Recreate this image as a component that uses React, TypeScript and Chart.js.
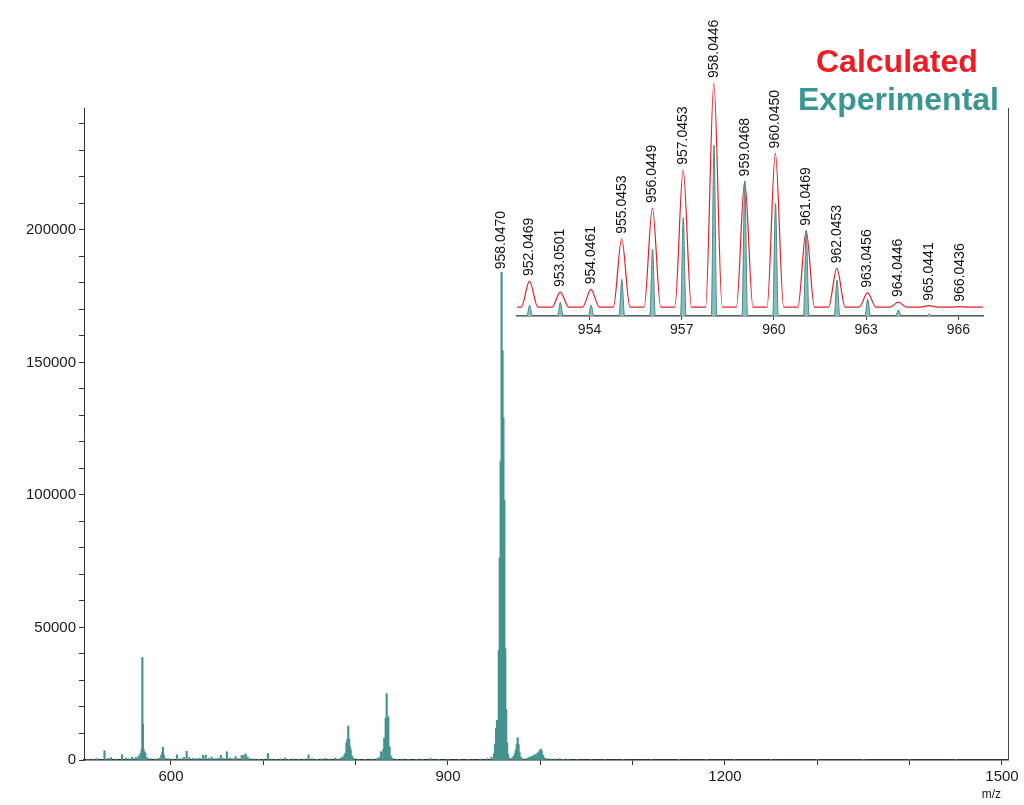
import React, { useEffect, useRef } from 'react';
import { Chart, registerables } from 'chart.js';

Chart.register(...registerables);

const FONT = "'Liberation Sans', Arial, Helvetica, sans-serif";

// ---------- Main spectrum (experimental) ----------
const mainMz = [
  510, 515, 520, 528, 532, 535, 540, 547, 551, 555, 558, 562, 565, 567, 568.3, 569.0, 569.6, 570.3, 571.2, 572.2,
  574, 578, 583, 587, 589.5, 590.5, 591.3, 592.2, 594, 598, 602, 606.5, 610, 614, 617, 620, 624, 627, 631, 634.7,
  637.6, 641, 644, 648, 651, 654, 657, 660.6, 664, 667, 670, 673, 676.5, 678.7, 681, 683, 686, 690, 695, 700,
  705, 709, 714, 719, 723.5, 728, 733, 738, 744, 749, 753, 758, 763, 767, 772, 777.6, 781, 784, 786, 788,
  789, 790, 791, 792, 793, 794, 794.6, 796, 798, 803, 810, 818, 823, 825, 827.4, 829.9, 831, 832.5, 833.6, 834.5,
  835.4, 836.8, 838, 840, 845, 850, 857, 866, 872, 881, 890, 900, 912, 922, 935, 942, 947, 950, 951.05, 952.05,
  953.05, 954.05, 955.05, 956.05, 957.05, 958.05, 959.05, 960.05, 961.05, 962.05, 963.05, 964.05, 965.05, 966.05, 969, 971, 972.5, 973.5, 974.5, 975.5,
  976.5, 977.5, 979, 982, 986, 988, 990, 992, 994, 996, 998, 999.5, 1000.6, 1001.5, 1003, 1005, 1008, 1012, 1016, 1021,
  1025, 1030, 1040, 1055, 1070, 1090, 1120, 1150, 1180, 1210, 1250, 1300, 1350, 1400, 1450,
];
const mainIntensity = [
  300, 400, 500, 3500, 600, 900, 400, 2000, 700, 500, 1100, 1000, 1500, 2500, 4000, 38700, 13500, 4000, 3000, 2600,
  900, 500, 400, 700, 1800, 2800, 4800, 2000, 700, 500, 400, 1900, 500, 1000, 3300, 900, 600, 500, 700, 1800,
  1800, 600, 1100, 500, 700, 1800, 700, 3100, 800, 500, 1300, 600, 1700, 1800, 2300, 1100, 500, 400, 300, 400,
  2500, 400, 300, 400, 800, 300, 400, 300, 400, 1900, 500, 300, 400, 600, 400, 700, 400, 800, 1200, 2000,
  2600, 6400, 7800, 12800, 7900, 5000, 3800, 1500, 600, 300, 300, 400, 500, 900, 3100, 4000, 8300, 15800, 25000, 14000,
  16300, 5000, 1500, 600, 300, 400, 300, 300, 300, 600, 300, 300, 300, 300, 400, 500, 1000, 2500, 6000, 12000,
  15000, 12000, 41400, 76300, 112800, 184000, 154500, 129000, 98000, 42000, 19000, 6500, 2200, 800, 700, 1500, 2500, 3800, 6000, 8400,
  5800, 2800, 1000, 500, 700, 1000, 1300, 1600, 2000, 2400, 3000, 3600, 4100, 3400, 1800, 800, 500, 400, 400, 500,
  300, 300, 200, 200, 200, 150, 150, 150, 150, 150, 150, 150, 150, 150, 150,
];
const mainXTicks = [600, 700, 800, 900, 1000, 1100, 1200, 1300, 1400, 1500];
const mainXLabelled = [600, 900, 1200, 1500];
const mainYTicks = [
  0, 10000, 20000, 30000, 40000, 50000, 60000, 70000, 80000, 90000, 100000, 110000, 120000,
  130000, 140000, 150000, 160000, 170000, 180000, 190000, 200000, 210000, 220000, 230000, 240000,
];
const mainYLabelled = [0, 50000, 100000, 150000, 200000];
const mainPeakLabelMz = [958.047];
const mainPeakLabelIntensity = [184000];
const mainPeakLabelText = ['958.0470'];

// ---------- Inset (isotope pattern) ----------
const calcMz = [952.0469, 953.0501, 954.0461, 955.0453, 956.0449, 957.0453, 958.0446, 959.0468, 960.045, 961.0469, 962.0453, 963.0456, 964.0446, 965.0441, 966.0436];
const calcLabels = ['952.0469', '953.0501', '954.0461', '955.0453', '956.0449', '957.0453', '958.0446', '959.0468', '960.0450', '961.0469', '962.0453', '963.0456', '964.0446', '965.0441', '966.0436'];
const calcRel = [11.6, 6.7, 7.9, 30.5, 44.2, 61.3, 100, 56.1, 68.6, 34.1, 17.3, 6.4, 2.2, 0.6, 0.15];
const expMz = [952.05, 953.05, 954.05, 955.05, 956.05, 957.05, 958.05, 959.05, 960.05, 961.05, 962.05, 963.05, 964.05, 965.05];
const expRel = [4.8, 6.1, 4.9, 16.4, 29.9, 43.9, 76.3, 60.3, 50.3, 38.1, 16.1, 7.5, 2.7, 0.9];
const insetXTicks = [954, 957, 960, 963, 966];
const calcOffset = 4; // calculated trace is drawn shifted above the experimental one
const insetMin = 951.64;
const insetMax = 966.8;
const calcHalfWidth = 0.27;
const expHalfWidth = 0.09;

const RED = '#e41f26';
const TEAL = '#3a9692';

function buildProfile(mz: number[], h: number[], half: number, base: number) {
  const pts: { x: number; y: number }[] = [{ x: insetMin, y: base }];
  mz.forEach((m, i) => {
    pts.push({ x: m - half, y: base });
    pts.push({ x: m, y: base + h[i] });
    pts.push({ x: m + half, y: base });
  });
  pts.push({ x: insetMax, y: base });
  return pts;
}

export default function App() {
  const mainRef = useRef<HTMLCanvasElement | null>(null);
  const insetRef = useRef<HTMLCanvasElement | null>(null);

  useEffect(() => {
    if (!mainRef.current || !insetRef.current) return;

    const mainOverlay = {
      id: 'mainOverlay',
      afterDatasetsDraw(chart: any) {
        const { ctx, scales } = chart;
        const x = scales.x;
        const y = scales.y;
        ctx.save();
        ctx.font = `14px ${FONT}`;
        ctx.fillStyle = '#111';
        ctx.textAlign = 'left';
        ctx.textBaseline = 'middle';
        mainPeakLabelMz.forEach((m, i) => {
          const px = x.getPixelForValue(m);
          const py = y.getPixelForValue(mainPeakLabelIntensity[i]) - 3;
          ctx.save();
          ctx.translate(px, py);
          ctx.rotate(-Math.PI / 2);
          ctx.fillText(mainPeakLabelText[i], 0, 0);
          ctx.restore();
        });
        ctx.restore();
      },
      afterDraw(chart: any) {
        const { ctx, chartArea } = chart;
        ctx.save();
        ctx.strokeStyle = '#444';
        ctx.lineWidth = 1;
        ctx.beginPath();
        ctx.moveTo(chartArea.right + 0.5, chartArea.top);
        ctx.lineTo(chartArea.right + 0.5, chartArea.bottom);
        ctx.stroke();
        // axis unit label
        ctx.font = `12px ${FONT}`;
        ctx.fillStyle = '#1a1a1a';
        ctx.textAlign = 'right';
        ctx.textBaseline = 'middle';
        ctx.fillText('m/z', chartArea.right - 7, chartArea.bottom + 35);
        // legend
        ctx.font = `bold 32px ${FONT}`;
        ctx.textAlign = 'left';
        ctx.textBaseline = 'alphabetic';
        ctx.fillStyle = '#ee1c24';
        ctx.fillText('Calculated', 816, 72);
        ctx.fillStyle = TEAL;
        ctx.fillText('Experimental', 798, 110);
        ctx.restore();
      },
    };

    const main = new Chart(mainRef.current, {
      type: 'bar',
      data: {
        datasets: [
          {
            label: 'Experimental',
            data: mainMz.map((m, i) => ({ x: m, y: mainIntensity[i] })),
            backgroundColor: '#44938f',
            borderWidth: 0,
            barThickness: 1.5,
          } as any,
        ],
      },
      options: {
        animation: false,
        responsive: false,
        layout: { padding: { left: 0, right: 16, top: 108, bottom: 0 } },
        plugins: { legend: { display: false }, tooltip: { enabled: false } },
        scales: {
          x: {
            type: 'linear',
            min: 505.8,
            max: 1506.5,
            offset: false,
            grid: { offset: false, drawOnChartArea: false, drawTicks: true, tickLength: 5, color: '#333' },
            border: { display: true, color: '#333', width: 1.5 },
            ticks: {
              autoSkip: false,
              maxRotation: 0,
              padding: 3,
              color: '#1a1a1a',
              font: { size: 15, family: FONT },
              callback: (v: any) => (mainXLabelled.includes(Number(v)) ? String(v) : ''),
            },
            afterBuildTicks: (s: any) => {
              s.ticks = mainXTicks.map((value) => ({ value }));
            },
            afterFit: (s: any) => {
              s.height = 45;
            },
          } as any,
          y: {
            type: 'linear',
            min: 0,
            max: 246000,
            grid: { drawOnChartArea: false, drawTicks: true, tickLength: 5, color: '#333' },
            border: { display: true, color: '#333', width: 1 },
            ticks: {
              autoSkip: false,
              padding: 3,
              color: '#1a1a1a',
              font: { size: 15, family: FONT },
              callback: (v: any) => (mainYLabelled.includes(Number(v)) ? String(v) : ''),
            },
            afterBuildTicks: (s: any) => {
              s.ticks = mainYTicks.map((value) => ({ value }));
            },
            afterFit: (s: any) => {
              s.width = 84;
            },
          } as any,
        },
      },
      plugins: [mainOverlay],
    });

    const insetLabels = {
      id: 'insetLabels',
      afterDatasetsDraw(chart: any) {
        const { ctx, scales } = chart;
        const x = scales.x;
        const y = scales.y;
        ctx.save();
        ctx.font = `14px ${FONT}`;
        ctx.fillStyle = '#111';
        ctx.textAlign = 'left';
        ctx.textBaseline = 'middle';
        calcMz.forEach((m, i) => {
          const px = x.getPixelForValue(m);
          const py = y.getPixelForValue(calcOffset + calcRel[i]) - 5;
          ctx.save();
          ctx.translate(px, py);
          ctx.rotate(-Math.PI / 2);
          ctx.fillText(calcLabels[i], 0, 0);
          ctx.restore();
        });
        ctx.restore();
      },
    };

    const inset = new Chart(insetRef.current, {
      type: 'line',
      data: {
        datasets: [
          {
            label: 'Experimental',
            data: buildProfile(expMz, expRel, expHalfWidth, 0),
            borderColor: '#4b8886',
            backgroundColor: '#86c0bd',
            borderWidth: 1,
            fill: 'origin',
            pointRadius: 0,
            cubicInterpolationMode: 'monotone',
            order: 0,
          } as any,
          {
            label: 'Calculated',
            data: buildProfile(calcMz, calcRel, calcHalfWidth, calcOffset),
            borderColor: RED,
            borderWidth: 1.2,
            fill: false,
            pointRadius: 0,
            cubicInterpolationMode: 'monotone',
            order: 1,
          } as any,
        ],
      },
      options: {
        animation: false,
        responsive: false,
        layout: { padding: { left: 37, right: 41, top: 58, bottom: 0 } },
        plugins: { legend: { display: false }, tooltip: { enabled: false } },
        scales: {
          x: {
            type: 'linear',
            min: insetMin,
            max: insetMax,
            grid: { drawOnChartArea: false, drawTicks: true, tickLength: 4, color: '#444' },
            border: { display: true, color: '#444', width: 1.5 },
            ticks: {
              autoSkip: false,
              maxRotation: 0,
              padding: 2,
              color: '#1a1a1a',
              font: { size: 14, family: FONT },
              callback: (v: any) => String(v),
            },
            afterBuildTicks: (s: any) => {
              s.ticks = insetXTicks.map((value) => ({ value }));
            },
            afterFit: (s: any) => {
              s.height = 34;
            },
          } as any,
          y: { type: 'linear', display: false, min: 0, max: 115.2 },
        },
      },
      plugins: [insetLabels],
    });

    return () => {
      main.destroy();
      inset.destroy();
    };
  }, []);

  return (
    <div style={{ position: 'absolute', left: 0, top: 0, width: 1024, height: 805, background: '#fff' }}>
      <canvas ref={mainRef} width={1024} height={805} style={{ position: 'absolute', left: 0, top: 0, display: 'block' }} />
      <canvas ref={insetRef} width={544} height={350} style={{ position: 'absolute', left: 480, top: 0, display: 'block' }} />
    </div>
  );
}
